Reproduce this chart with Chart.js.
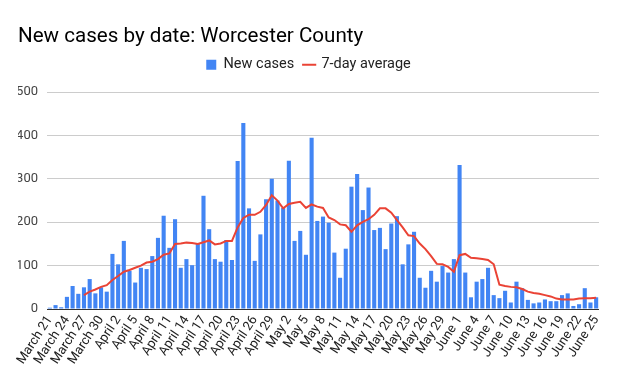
<!DOCTYPE html>
<html>
<head>
<meta charset="utf-8">
<script src="https://cdn.jsdelivr.net/npm/chart.js@4"></script>
<style>
  html, body { margin: 0; padding: 0; background: #fff; }
  #wrap { width: 618px; height: 382px; position: relative; }
</style>
</head>
<body>
<div id="wrap"><canvas id="c"></canvas></div>
<script>
const categories = [
  "March 21","March 22","March 23","March 24","March 25","March 26","March 27","March 28","March 29","March 30","March 31",
  "April 1","April 2","April 3","April 4","April 5","April 6","April 7","April 8","April 9","April 10",
  "April 11","April 12","April 13","April 14","April 15","April 16","April 17","April 18","April 19","April 20",
  "April 21","April 22","April 23","April 24","April 25","April 26","April 27","April 28","April 29","April 30",
  "May 1","May 2","May 3","May 4","May 5","May 6","May 7","May 8","May 9","May 10",
  "May 11","May 12","May 13","May 14","May 15","May 16","May 17","May 18","May 19","May 20",
  "May 21","May 22","May 23","May 24","May 25","May 26","May 27","May 28","May 29","May 30","May 31",
  "June 1","June 2","June 3","June 4","June 5","June 6","June 7","June 8","June 9","June 10",
  "June 11","June 12","June 13","June 14","June 15","June 16","June 17","June 18","June 19","June 20",
  "June 21","June 22","June 23","June 24","June 25"
];

const newCases = [
  3, 9, 4, 28, 53, 35, 50, 69, 36, 50, 40,
  127, 103, 157, 88, 61, 95, 92, 122, 164, 215,
  141, 207, 95, 115, 101, 150, 261, 184, 115, 109,
  159, 113, 341, 429, 232, 111, 172, 253, 300, 250,
  233, 342, 157, 180, 125, 395, 203, 213, 199, 130,
  72, 139, 282, 311, 228, 280, 182, 187, 138, 197,
  214, 103, 149, 178, 72, 49, 88, 63, 99, 84, 115,
  332, 84, 27, 63, 69, 95, 32, 25, 42, 15,
  63, 48, 21, 13, 15, 22, 18, 18, 32, 36,
  7, 11, 48, 15, 27
];

const sevenDayAvg = [
  null, null, null, null, null, null, 32, 40, 45, 51, 55,
  67, 76, 86, 90, 95, 100, 107, 109, 115, 125,
  128, 150, 151, 153, 152, 150, 154, 158, 149, 151,
  157, 157, 188, 210, 217, 217, 224, 240, 262, 250,
  232, 242, 245, 247, 233, 241, 236, 233, 211, 205,
  195, 193, 178, 193, 201, 207, 217, 232, 232, 222,
  205, 188, 170, 168, 151, 138, 122, 104, 103, 97, 86,
  124, 127, 118, 117, 115, 113, 103, 56, 53, 51,
  50, 46, 40, 37, 35, 32, 29, 24, 22, 22,
  22, 24, 25, 25, 26
];

const yTicks = [0, 100, 200, 300, 400, 500];
const labelEvery = 3;

const FONT = "Roboto";

const legendSpace = {
  id: "legendSpace",
  afterInit(chart) {
    const lg = chart.legend;
    if (lg && !lg._wrapped) {
      const orig = lg.fit;
      lg.fit = function() { orig.call(this); this.height += 10; };
      lg._wrapped = true;
    }
  }
};

new Chart(document.getElementById("c"), {
  type: "bar",
  data: {
    labels: categories,
    datasets: [
      {
        type: "bar",
        label: "New cases",
        data: newCases,
        backgroundColor: "#4285F4",
        borderWidth: 0,
        barPercentage: 0.72,
        categoryPercentage: 1.0,
        pointStyle: "rect",
        order: 2
      },
      {
        type: "line",
        label: "7-day average",
        data: sevenDayAvg,
        borderColor: "#EA4335",
        backgroundColor: "#EA4335",
        borderWidth: 2,
        pointRadius: 0,
        pointHoverRadius: 0,
        pointStyle: "line",
        tension: 0,
        spanGaps: false,
        order: 1
      }
    ]
  },
  plugins: [legendSpace],
  options: {
    responsive: true,
    maintainAspectRatio: false,
    animation: false,
    layout: { padding: { left: 18, right: 19, top: 0, bottom: 0 } },
    plugins: {
      tooltip: { enabled: false },
      title: {
        display: true,
        text: "New cases by date: Worcester County",
        align: "start",
        color: "#000",
        font: { family: FONT, size: 20.6, weight: "normal", lineHeight: 1 },
        padding: { top: 27, bottom: 0 }
      },
      legend: {
        display: true,
        position: "top",
        align: "center",
        labels: {
          usePointStyle: true,
          boxWidth: 10,
          boxHeight: 10,
          padding: 10,
          color: "#222",
          font: { family: FONT, size: 14.5 },
          sort: function(a, b) { return a.datasetIndex - b.datasetIndex; }
        }
      }
    },
    scales: {
      x: {
        offset: true,
        grid: { display: false, drawTicks: false },
        border: { display: false },
        ticks: {
          autoSkip: false,
          minRotation: 57,
          maxRotation: 57,
          padding: 4,
          color: "#222",
          font: { family: FONT, size: 13 },
          callback: function(value, index) {
            return index % labelEvery === 0 ? categories[index] : null;
          }
        },
        afterFit: function(axis) { axis.height = 73; }
      },
      y: {
        min: yTicks[0],
        max: yTicks[yTicks.length - 1],
        afterBuildTicks: function(axis) { axis.ticks = yTicks.map(v => ({ value: v })); },
        grid: {
          drawTicks: false,
          color: function(ctx) { return ctx.tick && ctx.tick.value === 0 ? "#333" : "#ccc"; },
          lineWidth: 1
        },
        border: { display: false },
        ticks: {
          padding: 9,
          color: "#444",
          font: { family: FONT, size: 13 }
        },
        afterFit: function(axis) { axis.width = 29; }
      }
    }
  }
});
</script>
</body>
</html>
